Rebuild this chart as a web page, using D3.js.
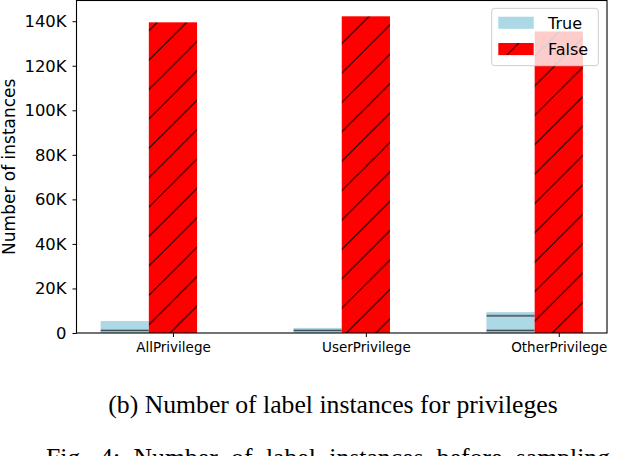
<!DOCTYPE html>
<html>

<head>
    <meta charset="utf-8">
    <script src="https://d3js.org/d3.v7.min.js"></script>
    <title>Label instances for privileges</title>
    <style>
        body { margin: 0; background: #fff; }
        svg { display: block; }
    </style>
</head>

<body>
    <div id="chart"></div>
</body>

<script>
    // values
    const categories = ["AllPrivilege", "UserPrivilege", "OtherPrivilege"];
    const trueCounts = [5400, 2300, 9400];
    const falseCounts = [139500, 142200, 135400];
    const yTickValues = [0, 20000, 40000, 60000, 80000, 100000, 120000, 140000];
    const yTickLabels = ["0", "20K", "40K", "60K", "80K", "100K", "120K", "140K"];
    const seriesNames = ["True", "False"];

    const width = 620, height = 456;

    // plot box, the spines sit on these edges
    const margin = {
        top: 0.5,
        bottom: 123,
        left: 76.5,
        right: 13
    }

    const svg = d3.select("#chart").append("svg")
        .attr("width", width)
        .attr("height", height);

    const defs = svg.append("defs");

    // "/" hatch for the False bars
    const diag = 29.4;
    const pDiag = defs.append("pattern")
        .attr("id", "hatchDiag")
        .attr("patternUnits", "userSpaceOnUse")
        .attr("x", 3.2).attr("y", 0)
        .attr("width", diag).attr("height", diag);
    pDiag.append("rect").attr("width", diag).attr("height", diag).attr("fill", "red");
    pDiag.append("path")
        .attr("d", `M0,${diag}L${diag},0M${-diag / 2},${diag / 2}L${diag / 2},${-diag / 2}M${diag / 2},${diag * 1.5}L${diag * 1.5},${diag / 2}`)
        .attr("stroke", "black")
        .attr("stroke-width", 1);

    // "-" hatch for the True bars
    const horiz = 14.7;
    const pHoriz = defs.append("pattern")
        .attr("id", "hatchHoriz")
        .attr("patternUnits", "userSpaceOnUse")
        .attr("x", 0).attr("y", 0)
        .attr("width", 20).attr("height", horiz);
    pHoriz.append("rect").attr("width", 20).attr("height", horiz).attr("fill", "lightblue");
    pHoriz.append("line")
        .attr("x1", 0).attr("x2", 20)
        .attr("y1", 7.1).attr("y2", 7.1)
        .attr("stroke", "#222")
        .attr("stroke-width", 1.2);

    const xScale = d3.scaleLinear()
        .domain([-0.5, 2.25])
        .range([margin.left, width - margin.right]);

    const yScale = d3.scaleLinear()
        .domain([0, 149300])
        .range([height - margin.bottom, margin.top]);

    const barW = 0.25;

    // True bars sit left of each tick, False bars centred on it
    svg.append("g").selectAll("rect")
        .data(trueCounts)
        .enter()
        .append("rect")
        .attr("x", (d, i) => xScale(i - 1.5 * barW))
        .attr("width", xScale(barW) - xScale(0))
        .attr("y", d => yScale(d))
        .attr("height", d => yScale(0) - yScale(d))
        .attr("fill", "url(#hatchHoriz)");

    svg.append("g").selectAll("rect")
        .data(falseCounts)
        .enter()
        .append("rect")
        .attr("x", (d, i) => xScale(i - 0.5 * barW))
        .attr("width", xScale(barW) - xScale(0))
        .attr("y", d => yScale(d))
        .attr("height", d => yScale(0) - yScale(d))
        .attr("fill", "url(#hatchDiag)");

    // axes
    const xAxis = svg.append("g")
        .attr("transform", "translate(0," + (height - margin.bottom) + ")")
        .call(d3.axisBottom(xScale)
            .tickValues(d3.range(categories.length))
            .tickFormat(i => categories[i])
            .tickSize(4).tickPadding(5));
    xAxis.select(".domain").remove();
    xAxis.selectAll("text")
        .attr("fill", "#000")
        .style("font-family", "DejaVu Sans")
        .style("font-size", "13.5px");

    const yAxis = svg.append("g")
        .attr("transform", "translate(" + margin.left + ",0)")
        .call(d3.axisLeft(yScale)
            .tickValues(yTickValues)
            .tickFormat((d, i) => yTickLabels[i])
            .tickSize(4).tickPadding(6));
    yAxis.select(".domain").remove();
    yAxis.selectAll("text")
        .attr("fill", "#000")
        .style("font-family", "DejaVu Sans")
        .style("font-size", "16.4px");

    // frame
    svg.append("rect")
        .attr("x", margin.left)
        .attr("y", margin.top)
        .attr("width", width - margin.right - margin.left)
        .attr("height", height - margin.bottom - margin.top)
        .attr("fill", "none")
        .attr("stroke", "#000")
        .attr("stroke-width", 1.1);

    svg.append("text")
        .attr("transform", "translate(15," + (yScale.range()[0] + yScale.range()[1]) / 2 + ") rotate(-90)")
        .attr("text-anchor", "middle")
        .style("font-family", "DejaVu Sans")
        .style("font-size", "17px")
        .text("Number of instances");

    // legend
    const legend = svg.append("g");
    legend.append("rect")
        .attr("x", 491.7).attr("y", 8.3)
        .attr("width", 106.6).attr("height", 57.4)
        .attr("rx", 3)
        .attr("fill", "white").attr("fill-opacity", 0.8)
        .attr("stroke", "#ccc");
    const legendFills = ["lightblue", "url(#hatchDiag)"];
    seriesNames.forEach(function (name, i) {
        legend.append("rect")
            .attr("x", 498.3).attr("y", 16.7 + i * 26.3)
            .attr("width", 35.4).attr("height", 12.1)
            .attr("fill", legendFills[i]);
        legend.append("text")
            .attr("x", 548).attr("y", 29 + i * 25.7)
            .style("font-family", "DejaVu Sans")
            .style("font-size", "16px")
            .text(name);
    });

    // figure captions underneath
    svg.append("text")
        .attr("x", 108.3).attr("y", 413)
        .style("font-family", "Liberation Serif")
        .style("font-size", "25.7px")
        .text("(b) Number of label instances for privileges");

    // this line runs on past the right edge in the source page
    svg.append("text")
        .attr("x", 46).attr("y", 466)
        .style("font-family", "Liberation Serif")
        .style("font-size", "25.7px")
        .style("word-spacing", "7px")
        .text("Fig. 4: Number of label instances before sampling");

</script>

</html>
